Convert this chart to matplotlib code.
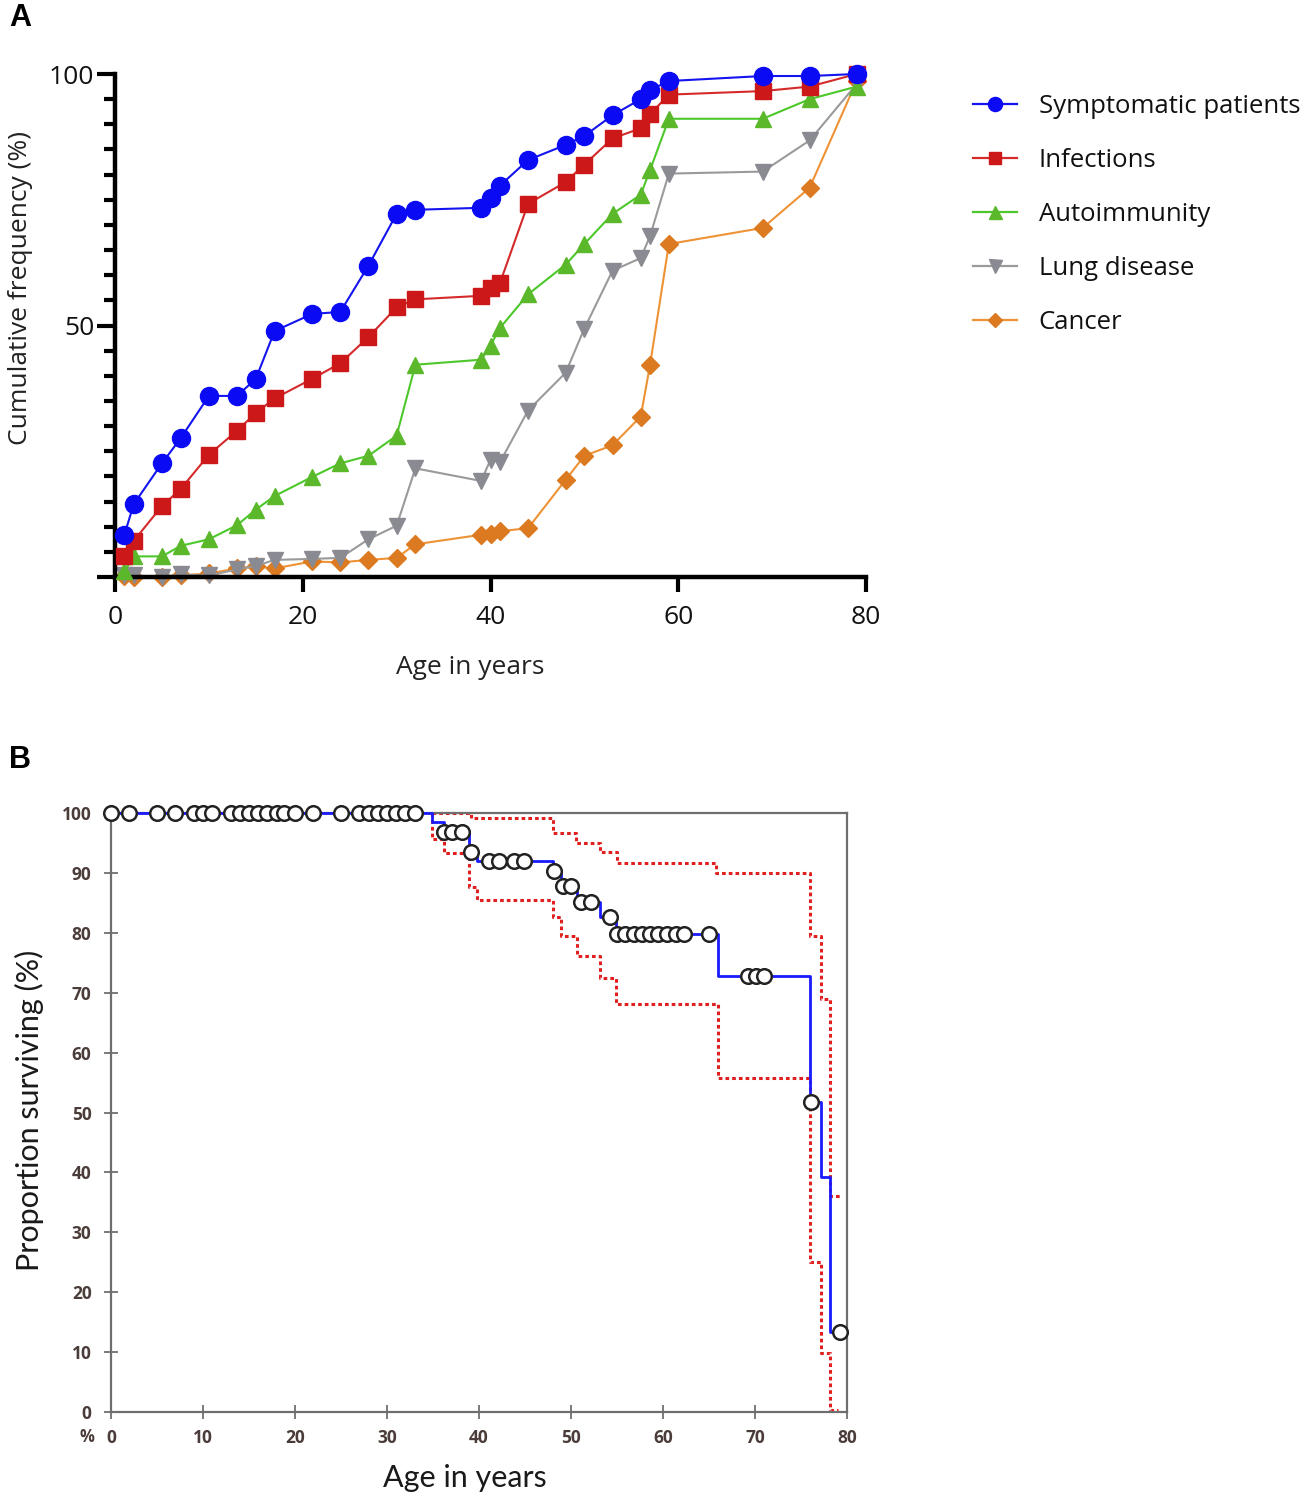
import numpy as np
import matplotlib
matplotlib.use('Agg')
import matplotlib.pyplot as plt
from matplotlib.ticker import MultipleLocator
from matplotlib.lines import Line2D

# ---- panel A: cumulative frequency by age ----
ages = [1, 2, 5, 7, 10, 13, 15, 17, 21, 24, 27, 30, 32, 39, 40, 41, 44, 48, 50, 53, 56, 57, 59, 69, 74, 79]
symptomatic = [8.4, 14.5, 22.6, 27.6, 36.0, 36.0, 39.4, 48.9, 52.3, 52.7, 61.9, 72.2, 73.0, 73.4, 75.4, 77.8,
               82.9, 85.9, 87.7, 91.8, 95.0, 96.8, 98.6, 99.6, 99.6, 100]
infections = [4.1, 7.2, 14.1, 17.5, 24.3, 29.1, 32.6, 35.5, 39.4, 42.5, 47.7, 53.6, 55.2, 55.9, 57.5, 58.4,
              74.2, 78.5, 82.0, 87.2, 89.2, 92.0, 95.9, 96.6, 97.5, 100]
autoimmunity = [1.1, 4.1, 4.1, 6.2, 7.5, 10.3, 13.4, 16.1, 19.9, 22.6, 24.1, 28.1, 42.2, 43.2, 46.0, 49.5,
                56.2, 62.1, 66.2, 72.2, 76.0, 80.9, 91.1, 91.1, 95.0, 97.5]
lung = [0.3, 0.3, 0.0, 0.5, 0.3, 1.5, 2.2, 3.4, 3.6, 3.8, 7.5, 10.2, 21.6, 19.1, 23.3, 22.8,
        33.1, 40.6, 49.4, 60.9, 63.4, 67.8, 80.2, 80.6, 86.8, 98.0]
cancer = [0.2, 0.0, 0.0, 0.3, 0.7, 1.7, 2.1, 1.7, 3.1, 2.9, 3.4, 3.8, 6.5, 8.4, 8.6, 9.1,
          9.7, 19.3, 24.1, 26.2, 31.9, 42.2, 66.2, 69.4, 77.4, 98.6]

# ---- panel B: Kaplan-Meier survival ----
km_time = [0, 34.9, 36.2, 38.9, 39.8, 48.0, 48.9, 50.7, 53.1, 54.9, 66.0, 76.0, 77.2, 78.2, 79.2]
km_surv = [100, 98.5, 96.9, 93.5, 92.0, 90.3, 87.8, 85.2, 82.7, 79.8, 72.8, 51.8, 39.2, 13.3, 13.3]
cens_time = [0, 2, 5, 7, 9, 10, 11, 13, 14, 15, 16, 17, 18, 18.8, 20, 22, 25, 27, 28, 29, 30, 31, 32, 33,
             36.2, 37.1, 38.2, 39.1, 41.1, 42.2, 43.8, 44.9, 48.1, 49.1, 50.0, 51.1, 52.2, 54.2,
             55.0, 55.9, 56.8, 57.7, 58.6, 59.5, 60.4, 61.4, 62.3, 65.0, 69.2, 70.1, 71.0, 76.1, 79.2]
cens_surv = [100] * 24 + [96.9, 96.9, 96.9, 93.5, 92.0, 92.0, 92.0, 92.0, 90.3, 87.8, 87.8, 85.2, 85.2, 82.7,
                          79.8, 79.8, 79.8, 79.8, 79.8, 79.8, 79.8, 79.8, 79.8, 79.8, 72.8, 72.8, 72.8, 51.8, 13.3]
ci_up_time = [34.9, 39.1, 48.0, 50.5, 53.1, 55.0, 65.8, 76.0, 77.2, 78.1, 79.2]
ci_up = [100, 99.1, 96.6, 95.0, 93.5, 91.7, 90.0, 79.5, 69.0, 36.1, 36.1]
ci_lo_time = [34.9, 34.9, 36.2, 38.9, 39.8, 48.0, 48.9, 50.7, 53.1, 54.9, 66.0, 76.0, 77.2, 78.2, 79.0]
ci_lo = [100, 95.7, 93.3, 87.6, 85.5, 82.7, 79.4, 76.1, 72.4, 68.1, 55.7, 25.1, 9.8, 0.3, 0.3]

W, H = 1309, 1500
fig = plt.figure(figsize=(W / 100, H / 100), dpi=100)

# ================= panel A =================
axA = fig.add_axes([115 / W, 1 - 577 / H, 751 / W, 503 / H])
series = [
    ('Symptomatic patients', symptomatic, '#1414f0', '#0a0af5', 'o', 13),
    ('Infections', infections, '#d42a2a', '#cc1818', 's', 11.5),
    ('Autoimmunity', autoimmunity, '#4cc82a', '#5ab82a', '^', 12),
    ('Lung disease', lung, '#9a9a9a', '#8a8a92', 'v', 12),
    ('Cancer', cancer, '#ee9236', '#dc7a22', 'D', 9),
]
handles = []
for i, (name, vals, lc, mc, mk, ms) in enumerate(series):
    axA.plot(ages, vals, color=lc, lw=1.5, zorder=5 - i, clip_on=False)
    axA.plot(ages, vals, ls='none', marker=mk, ms=ms, mfc=mc, mec=mc, zorder=5 - i, clip_on=False)
    handles.append(Line2D([], [], color=lc, lw=1.6, marker=mk, ms=ms * 0.78, mfc=mc, mec=mc))

axA.set_xlim(0, 80)
axA.set_ylim(0, 100)
for s in ['top', 'right']:
    axA.spines[s].set_visible(False)
for s in ['left', 'bottom']:
    axA.spines[s].set_linewidth(3.2)
axA.set_xticks([0, 20, 40, 60, 80])
axA.set_yticks([0, 50, 100])
axA.set_yticklabels(['', '50', '100'])
axA.yaxis.set_minor_locator(MultipleLocator(5))
axA.tick_params(axis='y', which='major', direction='out', length=13, width=3, pad=2)
axA.tick_params(axis='y', which='minor', direction='out', length=8, width=3)
axA.tick_params(axis='x', which='major', direction='out', length=11, width=3, pad=9)
for lab in axA.get_xticklabels() + axA.get_yticklabels():
    lab.set_fontfamily('Open Sans')
    lab.set_fontsize(19)
    lab.set_color('#111111')

fig.text(21 / W, 1 - 288 / H, 'Cumulative frequency (%)', rotation=90, ha='center', va='center',
         fontsize=19, family='Open Sans', color='#222222')
fig.text(470 / W, 1 - 668 / H, 'Age in years', ha='center', va='center',
         fontsize=19, family='Open Sans', color='#222222')

fig.legend(handles, [s[0] for s in series], loc='upper left', bbox_to_anchor=(973 / W, 1 - 94 / H),
           frameon=False, prop={'family': 'Open Sans', 'size': 18.5}, handlelength=1.7,
           handletextpad=0.85, labelspacing=1.13, borderpad=0, borderaxespad=0, labelcolor='#111111')

# ================= panel B =================
axB = fig.add_axes([111 / W, 1 - 1412 / H, 736 / W, 599 / H])
axB.step(ci_up_time, ci_up, where='post', color='#e02020', lw=2.2, ls=(0, (1.2, 1.0)), zorder=2, clip_on=False)
axB.step(ci_lo_time, ci_lo, where='post', color='#e02020', lw=2.2, ls=(0, (1.2, 1.0)), zorder=2, clip_on=False)
axB.step(km_time, km_surv, where='post', color='#1a1aff', lw=2.0, zorder=3, clip_on=False)
axB.plot(cens_time, cens_surv, ls='none', marker='o', ms=10.5, mfc='white', mec='#222222', mew=1.8,
         zorder=4, clip_on=False)

axB.set_xlim(0, 80)
axB.set_ylim(0, 100)
for s in axB.spines.values():
    s.set_color('#6e6e6e')
    s.set_linewidth(1.6)
axB.set_xticks(np.arange(0, 81, 10))
axB.set_yticks(np.arange(0, 101, 10))
axB.tick_params(axis='both', direction='inout', length=10, width=1.4, color='#7a7a7a',
                top=False, right=False)
axB.tick_params(axis='y', pad=9)
axB.tick_params(axis='x', pad=7)
for lab in axB.get_xticklabels() + axB.get_yticklabels():
    lab.set_fontfamily('Open Sans')
    lab.set_fontsize(12.5)
    lab.set_fontweight('bold')
    lab.set_color('#4a3c38')
fig.text(87 / W, 1 - 1437 / H, '%', ha='center', va='center', fontsize=12, fontweight='bold',
         family='Open Sans', color='#4a3c38')

fig.text(29 / W, 1 - 1110 / H, 'Proportion surviving (%)', rotation=90, ha='center', va='center',
         fontsize=22, family='Lato', color='#1a1a1a')
fig.text(465 / W, 1 - 1478 / H, 'Age in years', ha='center', va='center',
         fontsize=22, family='Lato', color='#1a1a1a')

fig.text(20 / W, 1 - 18 / H, 'A', ha='center', va='center', fontsize=22, fontweight='bold', family='Liberation Sans')
fig.text(20 / W, 1 - 760 / H, 'B', ha='center', va='center', fontsize=22, fontweight='bold', family='Liberation Sans')

fig.savefig('out.png', dpi=100)
